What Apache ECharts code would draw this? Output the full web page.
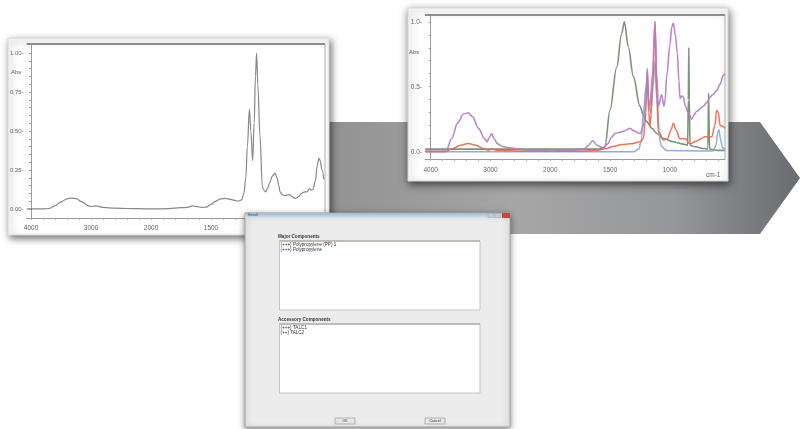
<!DOCTYPE html>
<html>
<head>
<meta charset="utf-8">
<script src="https://cdn.jsdelivr.net/npm/echarts@6/dist/echarts.min.js"></script>
<style>
  html, body { margin: 0; padding: 0; background: #ffffff; }
  #c { width: 801px; height: 429px; }
</style>
</head>
<body>
<div id="c"></div>
<script>
// Measured sample spectrum: wavenumber (cm-1) and absorbance
const sampleWave = [4070, 3800, 3700, 3600, 3500, 3400, 3320, 3250, 3150, 3050, 3000, 2930, 2880, 2800, 2600, 2400, 2200, 2000,
  1850, 1750, 1700, 1650, 1620, 1580, 1540, 1500, 1460, 1420, 1380, 1340, 1300, 1272, 1245, 1225, 1210, 1197, 1180, 1168, 1153,
  1140, 1130, 1120, 1110, 1092, 1072, 1060, 1044, 1030, 1010, 990, 967, 950, 935, 925, 905, 883, 860, 845, 825, 805, 792, 770,
  745, 720, 700, 680, 665, 650, 630, 615, 600, 590, 575, 560];
const sampleAbs = [0.0, 0.0, 0.003, 0.02, 0.045, 0.065, 0.07, 0.066, 0.045, 0.022, 0.015, 0.02, 0.017, 0.01, 0.005, 0.003, 0.002, 0.0,
  0.002, 0.008, 0.01, 0.02, 0.015, 0.01, 0.012, 0.03, 0.05, 0.065, 0.068, 0.062, 0.055, 0.05, 0.058, 0.1, 0.2, 0.4, 0.64, 0.5, 0.31,
  0.55, 0.85, 1.0, 0.8, 0.47, 0.14, 0.12, 0.11, 0.13, 0.17, 0.21, 0.23, 0.2, 0.15, 0.11, 0.09, 0.085, 0.09, 0.092, 0.08, 0.07, 0.068, 0.08,
  0.1, 0.11, 0.11, 0.13, 0.12, 0.125, 0.18, 0.28, 0.325, 0.31, 0.25, 0.19];

// Library spectra overlaid for comparison
const violetWave = [4090, 3760, 3732, 3650, 3550, 3450, 3371, 3300, 3200, 3100, 3054, 3020, 2980, 2940, 2880, 2800, 2674, 2500, 2300,
  2100, 2000, 1900, 1800, 1720, 1680, 1645, 1610, 1562, 1520, 1490, 1459, 1420, 1380, 1334, 1300, 1250, 1220, 1200, 1189, 1178, 1167,
  1145, 1125, 1110, 1097, 1069, 1050, 1040, 1027, 999, 985, 971, 955, 938, 925, 916, 900, 888, 870, 846, 818, 800, 777, 750, 721, 690,
  665, 640, 609, 580, 553, 540];
const violetAbs = [0.005, 0.005, 0.02, 0.1, 0.22, 0.29, 0.3, 0.27, 0.18, 0.1, 0.077, 0.11, 0.14, 0.1, 0.06, 0.04, 0.03, 0.02, 0.01,
  0.01, 0.005, 0.01, 0.012, 0.02, 0.05, 0.085, 0.05, 0.03, 0.06, 0.11, 0.14, 0.15, 0.16, 0.18, 0.16, 0.14, 0.2, 0.4, 0.64, 0.4, 0.35,
  0.6, 1.0, 0.6, 0.35, 0.44, 0.35, 0.4, 0.58, 0.83, 0.96, 0.99, 0.9, 0.76, 0.55, 0.41, 0.43, 0.42, 0.35, 0.3, 0.25, 0.28, 0.31, 0.33,
  0.35, 0.38, 0.42, 0.44, 0.47, 0.52, 0.59, 0.6];

const redWave = [4090, 3760, 3650, 3500, 3371, 3250, 3100, 3040, 2980, 2900, 2700, 2400, 2000, 1700, 1600, 1530, 1476, 1400, 1306,
  1250, 1222, 1205, 1189, 1178, 1165, 1145, 1125, 1110, 1090, 1055, 1020, 990, 971, 950, 916, 870, 832, 780, 740, 706, 650, 625, 609,
  595, 580, 568, 540];
const redAbs = [0.0, 0.0, 0.02, 0.05, 0.064, 0.05, 0.02, 0.012, 0.02, 0.012, 0.008, 0.005, 0.003, 0.005, 0.012, 0.025, 0.04, 0.055,
  0.064, 0.077, 0.1, 0.25, 0.62, 0.3, 0.2, 0.5, 1.0, 0.45, 0.15, 0.09, 0.1, 0.17, 0.22, 0.17, 0.1, 0.1, 0.06, 0.08, 0.1, 0.115, 0.115,
  0.2, 0.32, 0.3, 0.2, 0.2, 0.18];

const greenWave = [4090, 1600, 1560, 1543, 1501, 1445, 1403, 1381, 1348, 1306, 1250, 1222, 1194, 1150, 1110, 1050, 971, 900, 852,
  846, 842, 838, 832, 800, 720, 682, 677, 673, 668, 600, 540];
const greenAbs = [0.02, 0.02, 0.025, 0.04, 0.32, 0.65, 0.91, 1.0, 0.81, 0.58, 0.35, 0.28, 0.23, 0.18, 0.14, 0.1, 0.077, 0.06, 0.05,
  0.4, 0.8, 0.4, 0.05, 0.04, 0.025, 0.02, 0.45, 0.45, 0.02, 0.01, 0.01];

const blueWave = [4090, 1300, 1260, 1240, 1222, 1200, 1189, 1175, 1160, 1140, 1125, 1110, 1097, 1069, 1030, 640, 615, 600, 590, 578,
  560, 540];
const blueAbs = [0.0, 0.0, 0.02, 0.08, 0.3, 0.5, 0.55, 0.35, 0.3, 0.5, 0.7, 0.4, 0.15, 0.04, 0.01, 0.005, 0.05, 0.15, 0.17, 0.1,
  0.03, 0.02];

// Axis tick labels
const waveLabels = [4000, 3000, 2000, 1500, 1000];
const leftAbsLabels = [0, 0.25, 0.5, 0.75, 1.0];
const rightAbsLabels = [0, 0.5, 1.0];

// Search result dialog content
const majorTitle = 'Major Components';
const majorItems = ['(+++) Polypropylene (PP) 1', '(+++) Polypropylene'];
const accessoryTitle = 'Accessory Components';
const accessoryItems = ['(+++) TALC1', '(++) TALC2'];
const buttonLabels = ['OK', 'Cancel'];

// FTIR-style axis: linear above 2000 cm-1, twice expanded below 2000 cm-1.
function waveToAxis(w) { return w >= 2000 ? 4000 - w : 2000 + 2 * (2000 - w); }
function axisToWave(u) { return u <= 2000 ? 4000 - u : 2000 - (u - 2000) / 2; }
function pairs(wave, vals) {
  return wave.map((w, i) => [waveToAxis(w), vals[i]]);
}
const minorWaveTicks = [];
for (let u = 0; u <= 4800; u += 200) minorWaveTicks.push(u);
const waveLabelPos = waveLabels.map(waveToAxis);

const chart = echarts.init(document.getElementById('c'), null, { renderer: 'canvas' });

function xAxisFor(gridIndex, min, max, labelPos, fontSize, margin) {
  return {
    type: 'value', gridIndex, min, max, position: 'bottom',
    axisLine: { show: true, onZero: false, lineStyle: { color: '#9a9a9a', width: 1 } },
    axisTick: { show: true, customValues: minorWaveTicks, length: 2, lineStyle: { color: '#b0b0b0' } },
    axisLabel: {
      customValues: labelPos, fontSize, color: '#666', margin, fontFamily: 'Liberation Sans',
      formatter: (u) => String(Math.round(axisToWave(u)))
    },
    splitLine: { show: false }
  };
}
function yAxisFor(gridIndex, min, max, labels, minor, digits, fontSize) {
  return {
    type: 'value', gridIndex, min, max,
    axisLine: { show: true, lineStyle: { color: '#9a9a9a', width: 1 } },
    axisTick: { show: true, customValues: minor, length: 2, lineStyle: { color: '#a0a0a0' } },
    axisLabel: {
      customValues: labels, fontSize, color: '#666', margin: 3, fontFamily: 'Liberation Sans',
      formatter: (v) => v.toFixed(digits) + '-'
    },
    splitLine: { show: false }
  };
}
const leftMinor = [], rightMinor = [];
for (let i = 0; i <= 20; i++) leftMinor.push(i * 0.05);
for (let i = 0; i <= 10; i++) rightMinor.push(i * 0.1);

function specSeries(name, xi, data, color, width, z) {
  return {
    name, type: 'line', xAxisIndex: xi, yAxisIndex: xi, data,
    showSymbol: false, smooth: 0.35, smoothMonotone: 'x', z,
    lineStyle: { color, width, opacity: 0.9 }, silent: true
  };
}

// Background artwork: arrow band, spectrum windows and dialog frame
const graphics = [];
graphics.push({
  type: 'polygon', z: -20,
  shape: { points: [[290, 122], [760, 122], [800, 178], [760, 234], [290, 234]] },
  style: {
    fill: new echarts.graphic.LinearGradient(0, 0, 1, 0, [
      { offset: 0, color: '#8e8e8e' },
      { offset: 0.45, color: '#a6a6a6' },
      { offset: 0.75, color: '#96979a' },
      { offset: 1, color: '#6a6b6f' }
    ])
  }
});
// left window
graphics.push({
  type: 'rect', z: -10, shape: { x: 8, y: 38, width: 321, height: 197 },
  style: { fill: '#ffffff', stroke: '#d8d8d8', lineWidth: 1, shadowBlur: 7, shadowColor: 'rgba(0,0,0,0.55)', shadowOffsetX: 2, shadowOffsetY: 3 }
});
graphics.push({ type: 'line', z: 1, shape: { x1: 26.7, y1: 44, x2: 325, y2: 44 }, style: { stroke: '#8c8c8c', lineWidth: 2 } });
graphics.push({ type: 'line', z: 1, shape: { x1: 325, y1: 44, x2: 325, y2: 218 }, style: { stroke: '#b0b0b0', lineWidth: 1 } });
graphics.push({ type: 'text', z: 1, style: { x: 11, y: 69, text: 'Abs', fontSize: 6, fill: '#666', fontFamily: 'Liberation Sans' } });
// right window
graphics.push({
  type: 'rect', z: -10, shape: { x: 408, y: 8, width: 320, height: 173 },
  style: { fill: '#ffffff', stroke: '#d8d8d8', lineWidth: 1, shadowBlur: 8, shadowColor: 'rgba(0,0,0,0.6)', shadowOffsetX: 1, shadowOffsetY: 3 }
});
graphics.push({ type: 'line', z: 1, shape: { x1: 425, y1: 15, x2: 725, y2: 15 }, style: { stroke: '#8c8c8c', lineWidth: 2 } });
graphics.push({ type: 'line', z: 1, shape: { x1: 725, y1: 15, x2: 725, y2: 159 }, style: { stroke: '#b0b0b0', lineWidth: 1 } });
graphics.push({ type: 'text', z: 1, style: { x: 409, y: 49, text: 'Abs', fontSize: 6, fill: '#666', fontFamily: 'Liberation Sans' } });
graphics.push({ type: 'text', z: 1, style: { x: 706, y: 172, text: 'cm-1', fontSize: 6.5, fill: '#666', fontFamily: 'Liberation Sans' } });

// dialog
const dz = 100;
graphics.push({
  type: 'rect', z: dz, shape: { x: 245, y: 213, width: 265, height: 214 },
  style: { fill: '#ececec', stroke: '#9ea4aa', lineWidth: 1, shadowBlur: 6, shadowColor: 'rgba(0,0,0,0.45)', shadowOffsetY: 2 }
});
graphics.push({
  type: 'rect', z: dz + 1, shape: { x: 245, y: 213, width: 265, height: 5 },
  style: { fill: new echarts.graphic.LinearGradient(0, 0, 0, 1, [{ offset: 0, color: '#9fb9cf' }, { offset: 1, color: '#d6e2ec' }]) }
});
graphics.push({ type: 'rect', z: dz + 2, shape: { x: 502, y: 213, width: 8, height: 5 }, style: { fill: '#c9473c' } });
graphics.push({ type: 'rect', z: dz + 2, shape: { x: 488, y: 213.5, width: 6, height: 4 }, style: { fill: '#c3ccd4', stroke: '#9aa', lineWidth: 0.5 } });
graphics.push({ type: 'rect', z: dz + 2, shape: { x: 495, y: 213.5, width: 6, height: 4 }, style: { fill: '#c3ccd4', stroke: '#9aa', lineWidth: 0.5 } });
graphics.push({ type: 'text', z: dz + 2, style: { x: 248, y: 213.5, text: 'Result', fontSize: 3.5, fill: '#445', fontFamily: 'Liberation Sans' } });

function listBox(title, items, top, height) {
  graphics.push({ type: 'text', z: dz + 2, style: { x: 278, y: top - 7, text: title, fontSize: 4.6, fill: '#333', fontWeight: 'bold', fontFamily: 'Liberation Sans' } });
  graphics.push({ type: 'rect', z: dz + 1, shape: { x: 279.5, y: top, width: 200.5, height }, style: { fill: '#ffffff', stroke: '#c4c4c4', lineWidth: 1 } });
  graphics.push({ type: 'line', z: dz + 2, shape: { x1: 279.5, y1: top, x2: 480, y2: top }, style: { stroke: '#a89c92', lineWidth: 1 } });
  items.forEach((t, i) => {
    graphics.push({ type: 'text', z: dz + 2, style: { x: 280.5, y: top + 1 + i * 5.3, text: t, fontSize: 4.6, fill: '#333', fontFamily: 'Liberation Sans' } });
  });
}
listBox(majorTitle, majorItems, 241, 69);
listBox(accessoryTitle, accessoryItems, 324, 69);

buttonLabels.forEach((t, i) => {
  const x = i === 0 ? 335 : 425;
  graphics.push({ type: 'rect', z: dz + 1, shape: { x, y: 418, width: 20, height: 6 }, style: { fill: '#e6e6e6', stroke: '#9c9c9c', lineWidth: 0.7 } });
  graphics.push({ type: 'text', z: dz + 2, style: { x: x + 10, y: 421, text: t, fontSize: 3.5, fill: '#333', align: 'center', verticalAlign: 'middle', fontFamily: 'Liberation Sans' } });
});

chart.setOption({
  animation: false,
  backgroundColor: '#ffffff',
  grid: [
    { left: 26.7, top: 44, width: 298.3, height: 174, containLabel: false },
    { left: 425, top: 15, width: 300, height: 144, containLabel: false }
  ],
  xAxis: [
    xAxisFor(0, -72, 4900, waveLabelPos.slice(0, 4), 6.5, 7),
    xAxisFor(1, -95, 4921, waveLabelPos, 6.5, 8)
  ],
  yAxis: [
    yAxisFor(0, -0.058, 1.058, leftAbsLabels, leftMinor, 2, 6),
    yAxisFor(1, -0.056, 1.052, rightAbsLabels, rightMinor, 1, 6.5)
  ],
  series: [
    specSeries('Sample', 0, pairs(sampleWave, sampleAbs), '#7a7a7a', 1.2, 3),
    specSeries('Polypropylene', 1, pairs(greenWave, greenAbs), '#6e8a69', 1.6, 3),
    specSeries('TALC1', 1, pairs(blueWave, blueAbs), '#7ea6de', 1.5, 3),
    specSeries('TALC2', 1, pairs(redWave, redAbs), '#ee6446', 1.5, 4),
    specSeries('Polypropylene (PP) 1', 1, pairs(violetWave, violetAbs), '#b57ac6', 1.6, 5)
  ],
  graphic: graphics
});
</script>
</body>
</html>
